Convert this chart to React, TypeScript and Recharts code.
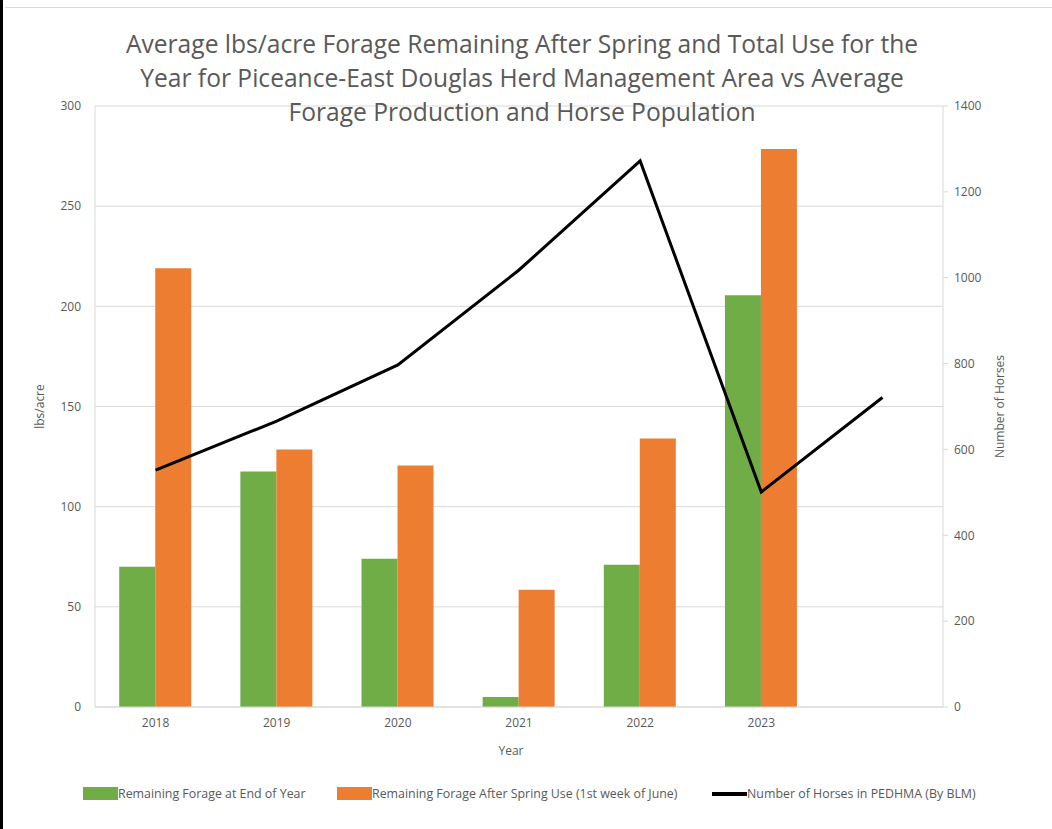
import React from "react";
import {
  ComposedChart,
  Bar,
  Line,
  XAxis,
  YAxis,
  CartesianGrid,
} from "recharts";

const years = ["2018", "2019", "2020", "2021", "2022", "2023", ""];
const forageEndOfYear = [70, 117.5, 74, 5, 71, 205.5, null];
const forageAfterSpring = [219, 128.5, 120.5, 58.5, 134, 278.5, null];
const horses = [552, 666, 797, 1018, 1272, 501, 721];

const leftTicks = [0, 50, 100, 150, 200, 250, 300];
const rightTicks = [0, 200, 400, 600, 800, 1000, 1200, 1400];

const titleLines = [
  "Average lbs/acre Forage Remaining After Spring and Total Use for the",
  "Year for Piceance-East Douglas Herd Management Area vs Average",
  "Forage Production and Horse Population",
];

const data = years.map((year, i) => ({
  year,
  endOfYear: forageEndOfYear[i],
  afterSpring: forageAfterSpring[i],
  horses: horses[i],
}));

const GREEN = "#70AD47";
const ORANGE = "#ED7D31";
const TEXT = "#595959";
const GRID = "#d9d9d9";
const FONT = "'Open Sans', sans-serif";

const tickStyle = { fill: TEXT, fontSize: 12, fontFamily: FONT };

function LegendRow() {
  const items = [
    { label: "Remaining Forage at End of Year", color: GREEN, left: 83, kind: "box" },
    { label: "Remaining Forage After Spring Use (1st week of June)", color: ORANGE, left: 337, kind: "box" },
    { label: "Number of Horses in PEDHMA (By BLM)", color: "#000", left: 712, kind: "line" },
  ];
  return (
    <>
      {items.map((it) => (
        <div
          key={it.label}
          style={{
            position: "absolute",
            left: it.left,
            top: 785,
            display: "flex",
            alignItems: "center",
            fontFamily: FONT,
            fontSize: 12.4,
            color: TEXT,
            whiteSpace: "nowrap",
          }}
        >
          <div
            style={{
              width: 35,
              height: it.kind === "box" ? 13 : 4,
              background: it.color,
            }}
          />
          <span>{it.label}</span>
        </div>
      ))}
    </>
  );
}

export default function App() {
  return (
    <div
      style={{
        position: "absolute",
        left: 0,
        top: 0,
        width: 1052,
        height: 829,
        background: "#fff",
        overflow: "hidden",
      }}
    >
      <div style={{ position: "absolute", left: 0, top: 0, width: 3, height: 829, background: "#000" }} />
      <div style={{ position: "absolute", left: 5, top: 7, width: 1047, height: 1, background: GRID }} />
      <ComposedChart
        width={1052}
        height={829}
        data={data}
        margin={{ top: 106, right: 0, bottom: 62, left: 0 }}
        barCategoryGap="20%"
        barGap={0}
      >
        <CartesianGrid yAxisId="left" vertical={false} stroke={GRID} />
        <XAxis
          dataKey="year"
          tick={tickStyle}
          tickLine={false}
          axisLine={{ stroke: GRID }}
          tickMargin={5}
          height={60}
          label={{
            value: "Year",
            position: "insideBottom",
            offset: 12,
            dx: -8,
            style: { fill: TEXT, fontSize: 12, fontFamily: FONT },
          }}
        />
        <YAxis
          yAxisId="left"
          orientation="left"
          width={95}
          domain={[0, 300]}
          ticks={leftTicks}
          tick={tickStyle}
          tickLine={false}
          tickMargin={8}
          axisLine={{ stroke: GRID }}
          label={{
            value: "lbs/acre",
            angle: -90,
            position: "insideLeft",
            offset: 40,
            style: { fill: TEXT, fontSize: 12, fontFamily: FONT, textAnchor: "middle" },
          }}
        />
        <YAxis
          yAxisId="right"
          orientation="right"
          width={109}
          domain={[0, 1400]}
          ticks={rightTicks}
          tick={tickStyle}
          tickSize={5}
          tickMargin={6}
          tickLine={{ stroke: GRID }}
          axisLine={{ stroke: GRID }}
          label={{
            value: "Number of Horses",
            angle: -90,
            position: "insideRight",
            offset: 52,
            style: { fill: TEXT, fontSize: 12, fontFamily: FONT, textAnchor: "middle" },
          }}
        />
        <Bar yAxisId="left" dataKey="endOfYear" fill={GREEN} isAnimationActive={false} />
        <Bar yAxisId="left" dataKey="afterSpring" fill={ORANGE} isAnimationActive={false} />
        <Line
          yAxisId="right"
          type="linear"
          dataKey="horses"
          stroke="#000"
          strokeWidth={3}
          dot={false}
          isAnimationActive={false}
        />
      </ComposedChart>
      {titleLines.map((line, i) => (
        <div
          key={line}
          style={{
            position: "absolute",
            left: 0,
            width: 1044,
            top: 27 + i * 34,
            textAlign: "center",
            fontFamily: FONT,
            fontSize: 24.6,
            lineHeight: "34px",
            color: TEXT,
            whiteSpace: "nowrap",
          }}
        >
          {line}
        </div>
      ))}
      <LegendRow />
    </div>
  );
}
